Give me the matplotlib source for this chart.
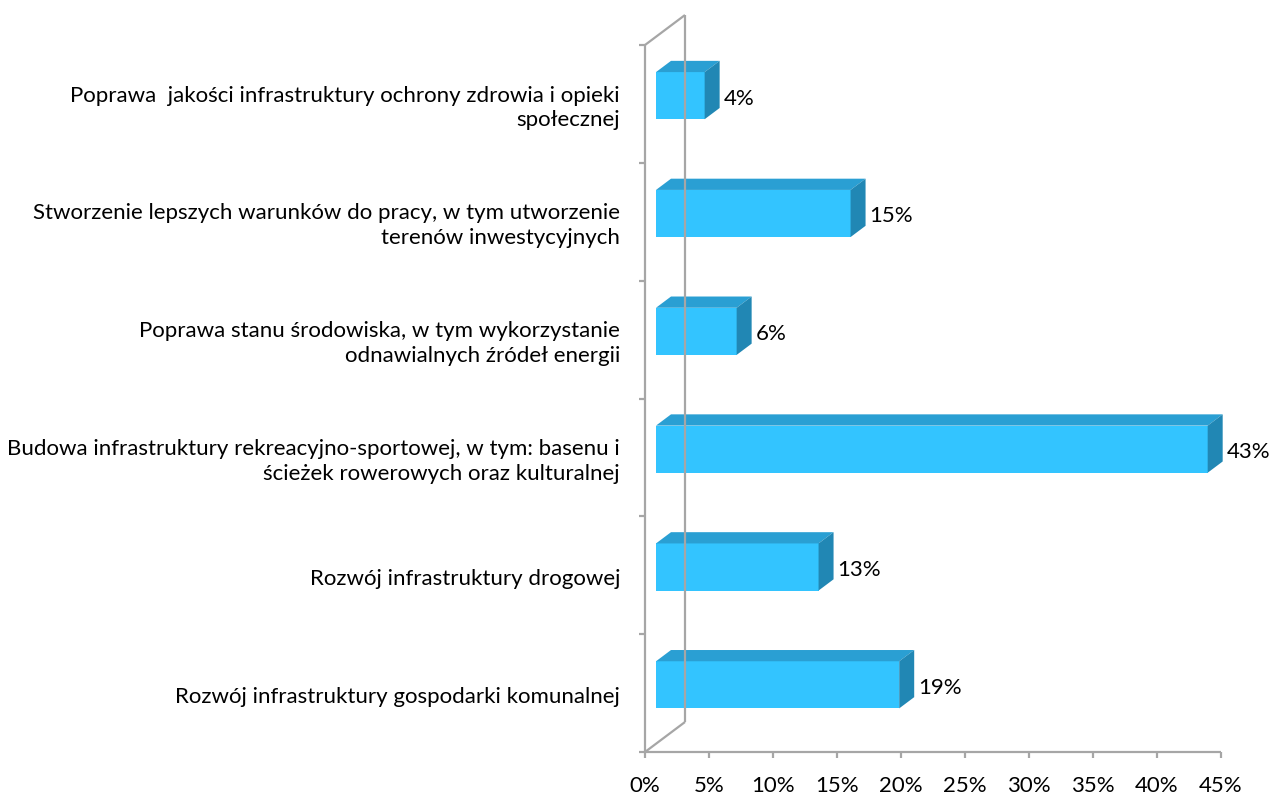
import matplotlib
matplotlib.use("Agg")
import matplotlib.pyplot as plt
from matplotlib.patches import Polygon

# data (top to bottom as in the chart)
categories = [
    "Poprawa  jakości infrastruktury ochrony zdrowia i opieki\nspołecznej",
    "Stworzenie lepszych warunków do pracy, w tym utworzenie\nterenów inwestycyjnych",
    "Poprawa stanu środowiska, w tym wykorzystanie\nodnawialnych źródeł energii",
    "Budowa infrastruktury rekreacyjno-sportowej, w tym: basenu i\nścieżek rowerowych oraz kulturalnej",
    "Rozwój infrastruktury drogowej",
    "Rozwój infrastruktury gospodarki komunalnej",
]
values = [3.8, 15.2, 6.3, 43.1, 12.7, 19.0]
value_labels = ["4%", "15%", "6%", "43%", "13%", "19%"]
x_ticks = [0, 5, 10, 15, 20, 25, 30, 35, 40, 45]
x_tick_labels = ["0%", "5%", "10%", "15%", "20%", "25%", "30%", "35%", "40%", "45%"]

FONT = ["Lato", "DejaVu Sans"]
FS = 16
GRAY = "#A6A6A6"
FRONT = "#33C4FF"
TOP = "#2A9FD3"
SIDE = "#2187B4"

W, H = 1271, 794
fig = plt.figure(figsize=(W / 100, H / 100), dpi=100)
# plot box in pixels: x 645..1221, y 45..752 (from top)
ax = fig.add_axes([645 / W, (H - 752) / H, 576 / W, 707 / H])
n = len(categories)
ax.set_xlim(0, 45)
ax.set_ylim(0, n)
ax.axis("off")

# oblique depth vector (data units) of the back wall
px_x = 576 / 45
px_y = 707 / n
dx, dy = 40 / px_x, 30 / px_y
d0, d1 = 0.275, 0.65      # bar depth range
bar_h = 0.4

kw = dict(color=GRAY, lw=1.6, clip_on=False, solid_capstyle="butt")
# walls / axes
ax.plot([0, 0], [0, n], **kw)
ax.plot([dx, dx], [dy, n + dy], **kw)
ax.plot([0, dx], [n, n + dy], **kw)
ax.plot([0, dx], [0, dy], **kw)
ax.plot([0, 45], [0, 0], **kw)
for t in x_ticks:
    ax.plot([t, t], [0, -6 / px_y], **kw)
for k in range(n + 1):
    ax.plot([0, -6 / px_x], [k, k], **kw)

for t, lab in zip(x_ticks, x_tick_labels):
    ax.text(t, -34 / px_y, lab, ha="center", va="center", fontsize=FS,
            family=FONT, color="black", clip_on=False)

for i, (cat, v, vl) in enumerate(zip(categories, values, value_labels)):
    yc = n - i - 0.5
    x0, y0 = d0 * dx, yc - bar_h / 2 + d0 * dy
    x1, y1 = v + d0 * dx, y0 + bar_h
    ox, oy = (d1 - d0) * dx, (d1 - d0) * dy
    front = [(x0, y0), (x1, y0), (x1, y1), (x0, y1)]
    top = [(x0, y1), (x1, y1), (x1 + ox, y1 + oy), (x0 + ox, y1 + oy)]
    side = [(x1, y0), (x1 + ox, y0 + oy), (x1 + ox, y1 + oy), (x1, y1)]
    ax.add_patch(Polygon(front, closed=True, fc=FRONT, ec="none", clip_on=False))
    ax.add_patch(Polygon(top, closed=True, fc=TOP, ec="none", clip_on=False))
    ax.add_patch(Polygon(side, closed=True, fc=SIDE, ec="none", clip_on=False))
    ax.text(x1 + ox + 4 / px_x, (y0 + y1) / 2 - 3 / px_y, vl, ha="left", va="center",
            fontsize=FS, family=FONT, clip_on=False)
    ax.text(-25 / px_x, yc - 4 / px_y, cat, ha="right", va="center", fontsize=FS,
            family=FONT, linespacing=1.3, multialignment="right", clip_on=False)

fig.savefig("out.png", dpi=100, facecolor="white")
